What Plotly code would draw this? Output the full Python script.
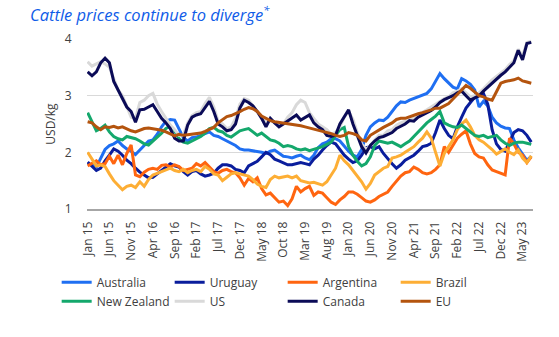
import plotly.graph_objects as go

month_names = ["Jan", "Feb", "Mar", "Apr", "May", "Jun", "Jul", "Aug", "Sep", "Oct", "Nov", "Dec"]
months = [f"{month_names[k % 12]} {15 + k // 12}" for k in range(103)]
tick_labels = months[::5]

australia = [1.80, 1.78, 1.74, 1.90, 2.05, 2.12, 2.15, 2.20, 2.12, 2.06,
             2.02, 1.96, 2.05, 2.12, 2.20, 2.22, 2.32, 2.45, 2.55, 2.58,
             2.57, 2.40, 2.26, 2.20, 2.26, 2.27, 2.30, 2.34, 2.36, 2.30,
             2.28, 2.24, 2.20, 2.16, 2.12, 2.06, 2.04, 2.04, 2.03, 2.02,
             2.00, 1.98, 2.02, 2.04, 1.98, 1.93, 1.92, 1.90, 1.93, 1.95,
             1.90, 1.87, 1.95, 2.08, 2.15, 2.18, 2.24, 2.24, 2.20, 2.10,
             2.02, 1.95, 1.92, 2.05, 2.30, 2.45, 2.52, 2.57, 2.56, 2.62,
             2.72, 2.82, 2.89, 2.88, 2.92, 2.95, 2.98, 3.00, 3.04, 3.12,
             3.25, 3.39, 3.30, 3.22, 3.15, 3.12, 3.30, 3.26, 3.20, 3.10,
             2.80, 2.90, 2.82, 2.62, 2.52, 2.46, 2.43, 2.42, 2.22, 2.08,
             1.98, 1.86, 1.93]
uruguay = [1.83, 1.75, 1.68, 1.72, 1.85, 1.95, 2.06, 2.02, 1.95, 1.86,
           1.80, 1.72, 1.65, 1.60, 1.55, 1.56, 1.62, 1.69, 1.75, 1.80,
           1.76, 1.74, 1.66, 1.60, 1.66, 1.68, 1.62, 1.58, 1.60, 1.63,
           1.72, 1.78, 1.78, 1.76, 1.70, 1.68, 1.64, 1.76, 1.80, 1.84,
           1.92, 2.00, 1.96, 1.88, 1.85, 1.82, 1.78, 1.78, 1.80, 1.82,
           1.80, 1.78, 1.88, 1.95, 2.04, 2.12, 2.18, 2.15, 2.05, 1.95,
           1.88, 1.82, 1.85, 1.95, 2.08, 2.10, 2.06, 2.10, 1.98, 1.88,
           1.80, 1.72, 1.78, 1.86, 1.90, 1.95, 2.02, 2.10, 2.12, 2.16,
           2.35, 2.57, 2.42, 2.30, 2.24, 2.45, 2.62, 2.78, 2.88, 2.97,
           3.00, 3.04, 2.85, 2.40, 2.15, 2.05, 2.02, 2.20, 2.35, 2.40,
           2.38, 2.30, 2.18]
argentina = [1.76, 1.80, 1.85, 1.78, 1.80, 1.93, 1.80, 1.95, 1.78, 1.98,
             2.13, 1.60, 1.57, 1.65, 1.70, 1.72, 1.70, 1.77, 1.78, 1.74,
             1.78, 1.75, 1.68, 1.70, 1.72, 1.80, 1.76, 1.82, 1.74, 1.66,
             1.63, 1.68, 1.70, 1.66, 1.64, 1.55, 1.42, 1.54, 1.48, 1.55,
             1.36, 1.25, 1.28, 1.20, 1.12, 1.14, 1.06, 1.18, 1.40, 1.30,
             1.36, 1.40, 1.24, 1.30, 1.28, 1.20, 1.12, 1.08, 1.16, 1.22,
             1.30, 1.30, 1.26, 1.20, 1.14, 1.12, 1.16, 1.22, 1.26, 1.30,
             1.40, 1.50, 1.58, 1.64, 1.66, 1.74, 1.70, 1.64, 1.62, 1.64,
             1.70, 1.78, 2.10, 2.00, 2.12, 2.25, 2.32, 2.38, 2.15, 1.98,
             1.92, 1.90, 1.78, 1.69, 1.66, 1.63, 1.60, 2.25, 2.15, 2.00,
             1.95, 1.82, 1.92]
brazil = [2.00, 1.88, 1.76, 1.78, 1.75, 1.62, 1.50, 1.42, 1.34, 1.40,
          1.42, 1.38, 1.48, 1.40, 1.52, 1.60, 1.63, 1.66, 1.70, 1.72,
          1.68, 1.66, 1.70, 1.64, 1.68, 1.70, 1.66, 1.75, 1.70, 1.62,
          1.60, 1.50, 1.56, 1.62, 1.64, 1.62, 1.60, 1.58, 1.52, 1.44,
          1.40, 1.38, 1.52, 1.58, 1.55, 1.56, 1.58, 1.55, 1.58, 1.50,
          1.48, 1.46, 1.47, 1.45, 1.42, 1.48, 1.60, 1.72, 1.95, 1.85,
          1.78, 1.68, 1.60, 1.48, 1.35, 1.45, 1.60, 1.66, 1.72, 1.75,
          1.90, 1.92, 1.95, 2.00, 2.05, 2.10, 2.18, 2.25, 2.36, 2.25,
          2.00, 1.76, 1.98, 2.10, 2.22, 2.40, 2.50, 2.57, 2.45, 2.30,
          2.22, 2.18, 2.12, 2.05, 1.97, 2.02, 2.06, 2.00, 1.96, 2.04,
          1.90, 1.82, 1.94]
new_zealand = [2.70, 2.55, 2.38, 2.42, 2.48, 2.36, 2.28, 2.24, 2.22, 2.28,
               2.26, 2.24, 2.20, 2.15, 2.13, 2.20, 2.26, 2.34, 2.42, 2.46,
               2.38, 2.24, 2.18, 2.16, 2.20, 2.24, 2.28, 2.34, 2.42, 2.44,
               2.38, 2.36, 2.30, 2.27, 2.32, 2.38, 2.40, 2.42, 2.36, 2.30,
               2.34, 2.28, 2.22, 2.20, 2.16, 2.10, 2.12, 2.10, 2.06, 2.04,
               2.06, 2.03, 2.05, 2.08, 2.10, 2.14, 2.18, 2.30, 2.40, 2.44,
               2.10, 1.95, 1.84, 1.76, 1.80, 1.92, 2.12, 2.20, 2.18, 2.16,
               2.18, 2.14, 2.10, 2.15, 2.20, 2.28, 2.36, 2.45, 2.52, 2.58,
               2.64, 2.72, 2.52, 2.48, 2.45, 2.44, 2.48, 2.42, 2.36, 2.30,
               2.28, 2.30, 2.26, 2.28, 2.30, 2.22, 2.16, 2.12, 2.16, 2.18,
               2.18, 2.16, 2.14]
us = [3.60, 3.52, 3.56, 3.60, 3.56, 3.50, 3.30, 3.10, 3.00, 2.80,
      2.62, 2.60, 2.88, 2.92, 3.00, 3.04, 2.85, 2.72, 2.60, 2.48,
      2.40, 2.30, 2.30, 2.52, 2.65, 2.70, 2.72, 2.86, 2.97, 2.80,
      2.55, 2.50, 2.42, 2.45, 2.60, 2.85, 2.95, 2.92, 2.82, 2.72,
      2.62, 2.52, 2.58, 2.52, 2.48, 2.50, 2.62, 2.70, 2.84, 2.92,
      2.88, 2.70, 2.60, 2.50, 2.45, 2.40, 2.32, 2.35, 2.45, 2.62,
      2.72, 2.58, 2.35, 2.15, 2.05, 2.12, 2.22, 2.30, 2.30, 2.38,
      2.40, 2.48, 2.52, 2.55, 2.60, 2.60, 2.66, 2.70, 2.75, 2.80,
      2.85, 2.90, 2.95, 2.98, 3.05, 3.08, 3.12, 3.05, 2.98, 3.00,
      3.05, 3.12, 3.20, 3.28, 3.34, 3.40, 3.46, 3.55, 3.62, 3.82,
      3.70, 3.94, 3.96]
canada = [3.42, 3.35, 3.42, 3.58, 3.66, 3.58, 3.25, 3.10, 2.95, 2.80,
          2.72, 2.53, 2.75, 2.76, 2.80, 2.84, 2.72, 2.60, 2.52, 2.42,
          2.25, 2.20, 2.20, 2.48, 2.62, 2.66, 2.68, 2.80, 2.90, 2.72,
          2.50, 2.45, 2.38, 2.40, 2.50, 2.78, 2.92, 2.88, 2.82, 2.72,
          2.60, 2.45, 2.60, 2.52, 2.45, 2.50, 2.55, 2.60, 2.66, 2.57,
          2.62, 2.66, 2.52, 2.45, 2.40, 2.30, 2.28, 2.30, 2.50, 2.62,
          2.75, 2.50, 2.30, 2.10, 1.99, 2.12, 2.20, 2.26, 2.28, 2.32,
          2.35, 2.42, 2.46, 2.50, 2.56, 2.55, 2.62, 2.66, 2.70, 2.74,
          2.80, 2.88, 2.93, 2.96, 3.00, 3.05, 3.08, 3.00, 2.92, 2.96,
          3.00, 3.08, 3.15, 3.22, 3.30, 3.36, 3.42, 3.50, 3.58, 3.80,
          3.63, 3.92, 3.94]
eu = [2.54, 2.52, 2.45, 2.40, 2.45, 2.44, 2.46, 2.43, 2.45, 2.41,
      2.38, 2.36, 2.39, 2.42, 2.43, 2.42, 2.40, 2.39, 2.36, 2.33,
      2.29, 2.32, 2.30, 2.31, 2.32, 2.34, 2.34, 2.37, 2.40, 2.44,
      2.52, 2.58, 2.63, 2.65, 2.68, 2.72, 2.76, 2.79, 2.77, 2.72,
      2.64, 2.60, 2.56, 2.54, 2.53, 2.51, 2.50, 2.50, 2.48, 2.47,
      2.45, 2.43, 2.42, 2.40, 2.37, 2.35, 2.33, 2.30, 2.28, 2.30,
      2.35, 2.33, 2.30, 2.22, 2.20, 2.30, 2.35, 2.39, 2.44, 2.48,
      2.52, 2.58, 2.60, 2.60, 2.63, 2.65, 2.68, 2.70, 2.72, 2.75,
      2.78, 2.78, 2.82, 2.86, 2.94, 3.02, 3.10, 3.18, 3.13, 3.06,
      3.00, 2.98, 2.94, 2.92, 3.06, 3.22, 3.25, 3.26, 3.28, 3.31,
      3.26, 3.24, 3.22]

series = [
    ("Australia", australia, "#1F6FF2"),
    ("Uruguay", uruguay, "#0A1D9C"),
    ("Argentina", argentina, "#FF6510"),
    ("Brazil", brazil, "#FDAE35"),
    ("New Zealand", new_zealand, "#14A86C"),
    ("US", us, "#D9D9D9"),
    ("Canada", canada, "#0B0B57"),
    ("EU", eu, "#B4540E"),
]

fig = go.Figure()
for name, vals, color in series:
    fig.add_trace(go.Scatter(x=months, y=vals, name=name, mode="lines",
                             line=dict(color=color, width=3)))

fig.update_layout(
    width=559, height=337,
    margin=dict(l=87, r=26, t=39, b=128, autoexpand=False),
    paper_bgcolor="white", plot_bgcolor="white",
    font=dict(family="Open Sans", size=12, color="#404040"),
    title=dict(text="<i>Cattle prices continue to diverge<sup>*</sup></i>",
               x=30 / 559, xanchor="left", y=1 - 15 / 337, yanchor="middle",
               font=dict(family="Open Sans", size=16.5, color="#0F5CE8")),
    showlegend=True,
    legend=dict(orientation="h", x=-0.068, xanchor="left", y=-0.345, yanchor="top",
                entrywidth=68, entrywidthmode="pixels", itemwidth=30,
                font=dict(size=12, color="#404040"), tracegroupgap=0,
                traceorder="normal"),
)
fig.update_xaxes(type="category", range=[-0.15, 102.4],
                 tickmode="array", tickvals=tick_labels, ticktext=tick_labels,
                 tickangle=-90, showgrid=False, showline=True, linecolor="#A6A6A6",
                 linewidth=1.5, ticks="outside", ticklen=6, tickcolor="rgba(0,0,0,0)",
                 tickfont=dict(size=12, color="#404040"))
fig.update_yaxes(range=[1, 4], tickvals=[1, 2, 3, 4], showgrid=True, gridcolor="#D9D9D9",
                 gridwidth=1, zeroline=False, showline=False,
                 ticks="outside", ticklen=12, tickcolor="rgba(0,0,0,0)",
                 tickfont=dict(size=12, color="#404040"),
                 title=dict(text="USD/kg", standoff=6, font=dict(size=12, color="#404040")))

fig.write_html("out.html")
